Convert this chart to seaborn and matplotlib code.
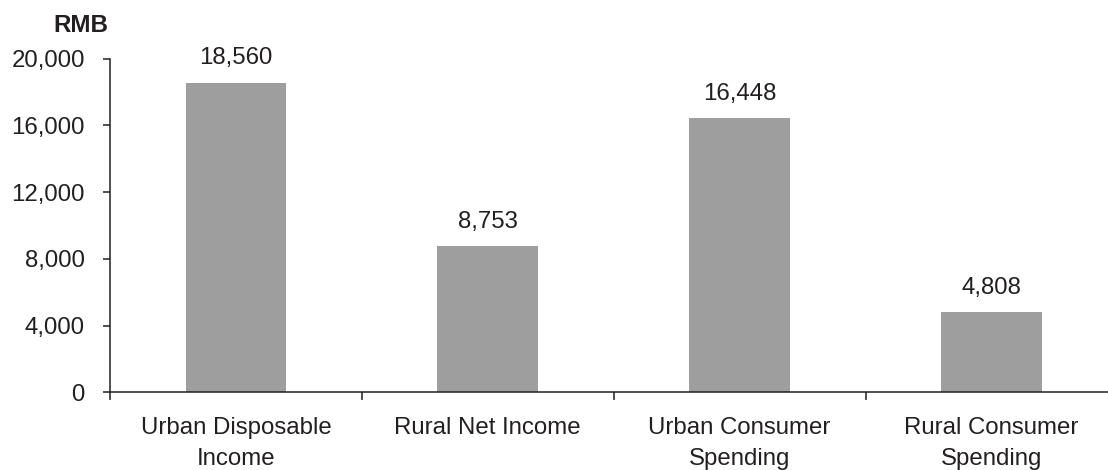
import matplotlib
matplotlib.use("Agg")
import matplotlib.pyplot as plt
import seaborn as sns
import pandas as pd
import numpy as np

categories = ["Urban Disposable\nIncome", "Rural Net Income",
              "Urban Consumer\nSpending", "Rural Consumer\nSpending"]
values = [18560, 8753, 16448, 4808]
y_ticks = [0, 4000, 8000, 12000, 16000, 20000]

sns.set_style("white")
plt.rcParams["font.family"] = ["Liberation Sans", "DejaVu Sans"]

TEXT = "#231f20"
BAR = "#9e9e9e"
W, H = 1108, 470
FS = 17.3

fig = plt.figure(figsize=(W / 100, H / 100), dpi=100)
left, right = 110 / W, 1117.5 / W
bottom, top = (H - 392.3) / H, (H - 58.5) / H
ax = fig.add_axes([left, bottom, right - left, top - bottom])

df = pd.DataFrame({"category": categories, "value": values})
sns.barplot(data=df, x="category", y="value", color=BAR, width=0.4,
            saturation=1, ax=ax, edgecolor="none")

ax.set_xlim(-0.5, len(categories) - 0.5)
ax.set_ylim(0, 20000)
ax.set_xlabel("")
ax.set_ylabel("")

ax.set_yticks(y_ticks)
ax.set_yticklabels([f"{v:,}" for v in y_ticks])
ax.tick_params(axis="y", length=5, width=1.1, color=TEXT, pad=13,
               labelsize=FS, labelcolor=TEXT, direction="out", left=True)

ax.set_xticks(range(len(categories)))
ax.set_xticklabels(categories, linespacing=1.5)
ax.tick_params(axis="x", which="major", length=0, pad=18,
               labelsize=FS, labelcolor=TEXT)
ax.set_xticks(np.arange(-0.5, len(categories)), minor=True)
ax.tick_params(axis="x", which="minor", length=6, width=1.1, color=TEXT,
               direction="out", bottom=True)

for side in ["top", "right"]:
    ax.spines[side].set_visible(False)
for side in ["left", "bottom"]:
    ax.spines[side].set_color(TEXT)
    ax.spines[side].set_linewidth(1.1)

for i, v in enumerate(values):
    ax.annotate(f"{v:,}", xy=(i, v), xytext=(0, 13), textcoords="offset points",
                ha="center", va="baseline", fontsize=FS, color=TEXT)

fig.text(108 / W, 1 - 32 / H, "RMB", ha="right", va="baseline",
         fontsize=17.5, fontweight="bold", color=TEXT)

fig.savefig("out.png", dpi=100)
